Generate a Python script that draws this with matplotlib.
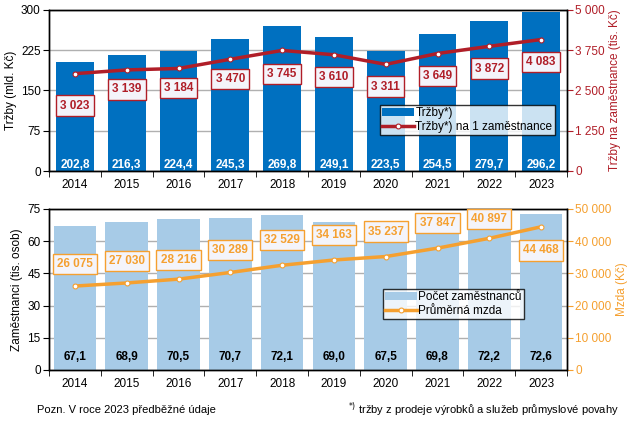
import matplotlib.pyplot as plt
from matplotlib.ticker import FuncFormatter

plt.rcParams['font.family'] = ['Liberation Sans', 'DejaVu Sans']
plt.rcParams['font.size'] = 8

years = ['2014', '2015', '2016', '2017', '2018', '2019', '2020', '2021', '2022', '2023']
trzby = [202.8, 216.3, 224.4, 245.3, 269.8, 249.1, 223.5, 254.5, 279.7, 296.2]
trzby_na_zam = [3023, 3139, 3184, 3470, 3745, 3610, 3311, 3649, 3872, 4083]
zamestnanci = [67.1, 68.9, 70.5, 70.7, 72.1, 69.0, 67.5, 69.8, 72.2, 72.6]
mzda = [26075, 27030, 28216, 30289, 32529, 34163, 35237, 37847, 40897, 44468]

BLUE = '#0070C0'
RED = '#B01E28'
LBLUE = '#A7CBE7'
ORANGE = '#F5A030'


def space_fmt(v, pos=None):
    return f'{int(round(v)):,}'.replace(',', ' ')


def dec_fmt(v):
    return f'{v:.1f}'.replace('.', ',')


fig = plt.figure(figsize=(6.39, 4.22), dpi=100)
ax1 = fig.add_axes([49 / 639, 1 - 171 / 422, 518 / 639, 161 / 422])
ax3 = fig.add_axes([49 / 639, 1 - 370 / 422, 518 / 639, 161 / 422])

x = list(range(len(years)))


def style_axes(ax, ax2):
    ax.set_xlim(-0.5, len(years) - 0.5)
    ax.set_xticks(x)
    ax.set_xticklabels(years)
    ax.set_xticks([i + 0.5 for i in range(-1, len(years))], minor=True)
    ax.tick_params(axis='x', which='major', length=0, pad=6)
    ax.tick_params(axis='x', which='minor', length=4, direction='out')
    ax.tick_params(axis='y', length=4, direction='out', pad=2)
    ax2.tick_params(axis='y', length=4, direction='out', pad=2)
    ax.yaxis.grid(True, color='#B0B0B0', linewidth=1)
    ax.set_axisbelow(True)
    for sp in list(ax.spines.values()) + list(ax2.spines.values()):
        sp.set_linewidth(1)
        sp.set_color('black')


# --- top chart ---
ax2 = ax1.twinx()
ax1.set_zorder(ax2.get_zorder() - 1)
ax2.patch.set_visible(False)

b1 = ax1.bar(x, trzby, width=0.73, color=BLUE, label='Tržby*)')
ax1.set_ylim(0, 300)
ax1.set_yticks([0, 75, 150, 225, 300])
ax1.set_ylabel('Tržby (mld. Kč)', labelpad=3, fontsize=8.5)
for xi, v in zip(x, trzby):
    ax1.text(xi, 12, dec_fmt(v), ha='center', va='center', color='white',
             fontweight='bold', fontsize=8.5)

l1, = ax2.plot(x, trzby_na_zam, color=RED, linewidth=2.5, marker='o', markersize=3.5,
               markerfacecolor='white', markeredgecolor=RED, markeredgewidth=0.8,
               label='Tržby*) na 1 zaměstnance')
ax2.set_ylim(0, 5000)
ax2.set_yticks([0, 1250, 2500, 3750, 5000])
ax2.yaxis.set_major_formatter(FuncFormatter(space_fmt))
ax2.tick_params(axis='y', colors=RED, labelcolor=RED, labelsize=8.5)
ax2.set_ylabel('Tržby na zaměstnance (tis. Kč)', color=RED, labelpad=3, fontsize=8.5)
offs_top = [-23, -14, -14, -14, -17, -16, -16, -16, -16, -16]
for xi, v, o in zip(x, trzby_na_zam, offs_top):
    ax2.annotate(space_fmt(v), (xi, v), xytext=(0, o), textcoords='offset points',
                 ha='center', va='center', color=RED, fontweight='bold', fontsize=8.5,
                 bbox=dict(boxstyle='square,pad=0.35', facecolor='#F4F4FA', edgecolor=RED,
                           linewidth=1))
style_axes(ax1, ax2)
ax1.tick_params(axis='y', labelsize=8.5)
ax1.tick_params(axis='x', labelsize=8.5)
leg = ax2.legend([b1, l1], ['Tržby*)', 'Tržby*) na 1 zaměstnance'],
                 loc='upper left', bbox_to_anchor=(331 / 518, 66 / 161),
                 frameon=True, fancybox=False, edgecolor='black', fontsize=8.5,
                 handlelength=2.7, handletextpad=0.1, borderpad=0.2, labelspacing=0.15,
                 borderaxespad=0)
leg.get_frame().set_linewidth(1)

# --- bottom chart ---
ax4 = ax3.twinx()
ax3.set_zorder(ax4.get_zorder() - 1)
ax4.patch.set_visible(False)

b3 = ax3.bar(x, zamestnanci, width=0.82, color=LBLUE, label='Počet zaměstnanců')
ax3.set_ylim(0, 75)
ax3.set_yticks([0, 15, 30, 45, 60, 75])
ax3.set_ylabel('Zaměstnanci (tis. osob)', labelpad=3, fontsize=8.5)
for xi, v in zip(x, zamestnanci):
    ax3.text(xi, 6, dec_fmt(v), ha='center', va='center', color='black',
             fontweight='bold', fontsize=8.5)

l4, = ax4.plot(x, mzda, color=ORANGE, linewidth=2.5, marker='o', markersize=3.5,
               markerfacecolor='white', markeredgecolor=ORANGE, markeredgewidth=0.8,
               label='Průměrná mzda')
ax4.set_ylim(0, 50000)
ax4.set_yticks([0, 10000, 20000, 30000, 40000, 50000])
ax4.yaxis.set_major_formatter(FuncFormatter(space_fmt))
ax4.tick_params(axis='y', colors=ORANGE, labelcolor=ORANGE, labelsize=8.5)
ax4.set_ylabel('Mzda (Kč)', color=ORANGE, labelpad=3, fontsize=8.5)
offs_bot = [16, 16, 14, 16, 18, 18, 18, 18, 14, -17]
for xi, v, o in zip(x, mzda, offs_bot):
    ax4.annotate(space_fmt(v), (xi, v), xytext=(0, o), textcoords='offset points',
                 ha='center', va='center', color=ORANGE, fontweight='bold', fontsize=8.5,
                 bbox=dict(boxstyle='square,pad=0.35', facecolor='#F4F4FA', edgecolor=ORANGE,
                           linewidth=1))
style_axes(ax3, ax4)
ax3.tick_params(axis='y', labelsize=8.5)
ax3.tick_params(axis='x', labelsize=8.5)
leg2 = ax4.legend([b3, l4], ['Počet zaměstnanců', 'Průměrná mzda'],
                  loc='upper left', bbox_to_anchor=(334 / 518, 81 / 161),
                  frameon=True, fancybox=False, edgecolor='black', fontsize=8.5,
                  handlelength=2.7, handletextpad=0.1, borderpad=0.2, labelspacing=0.15,
                  borderaxespad=0)
leg2.get_frame().set_linewidth(1)

# footnotes
fig.text(37 / 639, 1 - 410 / 422, 'Pozn. V roce 2023 předběžné údaje', fontsize=8,
         va='center', ha='left')
fig.text(619 / 639, 1 - 410 / 422,
         r'$^{*)}$ tržby z prodeje výrobků a služeb průmyslové povahy',
         fontsize=8, va='center', ha='right')

fig.savefig('out.png', dpi=100)
